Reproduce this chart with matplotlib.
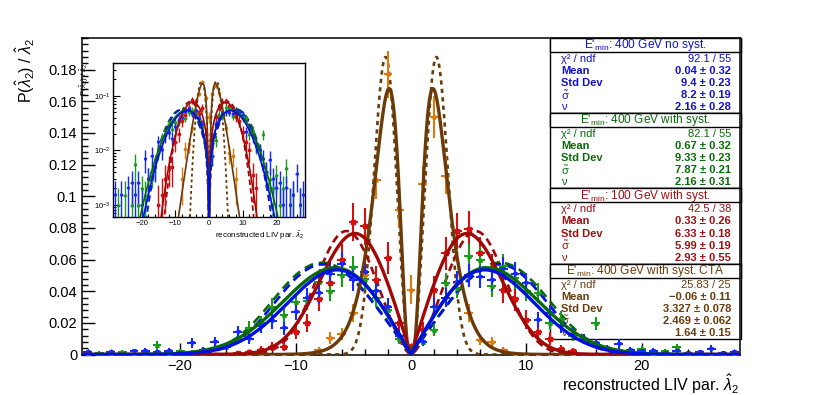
import numpy as np
import matplotlib
matplotlib.use("Agg")
import matplotlib.pyplot as plt
from matplotlib.patches import Rectangle
from matplotlib.ticker import MultipleLocator, LogLocator, NullFormatter

plt.rcParams['font.family'] = ['Liberation Sans', 'DejaVu Sans']
plt.rcParams['mathtext.fontset'] = 'custom'
plt.rcParams['mathtext.rm'] = 'Liberation Sans'
plt.rcParams['mathtext.it'] = 'Liberation Sans:italic'
plt.rcParams['mathtext.bf'] = 'Liberation Sans:bold'
plt.rcParams['axes.unicode_minus'] = True

# ---------------- data (bin centres -28 ... 28) ----------------
bins = list(range(-28, 29))

blue_y = [0.0015, 0.0, 0.0015, 0.0, 0.002, 0.0025, 0.0015, 0.0025, 0.001, 0.007,
          0.003, 0.008, 0.005, 0.0142, 0.010, 0.018, 0.021, 0.0165, 0.027, 0.036,
          0.039, 0.051, 0.057, 0.047, 0.052, 0.040, 0.030, 0.012, 0.002,
          0.008, 0.030, 0.036, 0.046, 0.050, 0.049, 0.047, 0.054, 0.051, 0.045,
          0.022, 0.026, 0.018, 0.013, 0.010, 0.007, 0.004, 0.0066, 0.003, 0.002,
          0.0025, 0.001, 0.002, 0.001, 0.0015, 0.0037, 0.001, 0.0015]
blue_e = [0.0012, 0.0, 0.0012, 0.0, 0.0014, 0.0016, 0.0012, 0.0016, 0.001, 0.0032,
          0.0017, 0.0033, 0.0024, 0.0040, 0.0032, 0.0044, 0.0047, 0.0042, 0.0053, 0.0061,
          0.0063, 0.0072, 0.0076, 0.0069, 0.0073, 0.0064, 0.0056, 0.0036, 0.0015,
          0.0029, 0.0056, 0.0061, 0.0069, 0.0072, 0.0071, 0.0069, 0.0074, 0.0072, 0.0068,
          0.0047, 0.0052, 0.0044, 0.0037, 0.0032, 0.0030, 0.0020, 0.0030, 0.0017, 0.0014,
          0.0016, 0.001, 0.0014, 0.001, 0.0012, 0.0020, 0.001, 0.0012]

green_y = [0.0, 0.001, 0.0, 0.0015, 0.0, 0.001, 0.0057, 0.001, 0.002, 0.0015,
           0.003, 0.004, 0.005, 0.010, 0.017, 0.020, 0.030, 0.025, 0.033, 0.034,
           0.046, 0.040, 0.050, 0.055, 0.048, 0.036, 0.028, 0.010, 0.004,
           0.008, 0.0156, 0.045, 0.042, 0.062, 0.060, 0.043, 0.0557, 0.0486, 0.040,
           0.039, 0.020, 0.0227, 0.012, 0.010, 0.0196, 0.004, 0.003, 0.002, 0.0035,
           0.001, 0.002, 0.0047, 0.001, 0.0015, 0.0, 0.001, 0.0]
green_e = [0.0, 0.001, 0.0, 0.0012, 0.0, 0.001, 0.0030, 0.001, 0.0014, 0.0012,
           0.0017, 0.0020, 0.0022, 0.0032, 0.0041, 0.0045, 0.0055, 0.0050, 0.0057, 0.0058,
           0.0068, 0.0063, 0.0071, 0.0074, 0.0069, 0.0060, 0.0053, 0.0032, 0.0020,
           0.0028, 0.0039, 0.0067, 0.0065, 0.0079, 0.0077, 0.0066, 0.0075, 0.0070, 0.0063,
           0.0062, 0.0045, 0.0048, 0.0035, 0.0032, 0.0044, 0.0020, 0.0017, 0.0014, 0.0019,
           0.001, 0.0014, 0.0022, 0.001, 0.0012, 0.0, 0.001, 0.0]

red_y = [0.0] * 13 + [0.001, 0.0015, 0.003, 0.005, 0.005, 0.0145, 0.020, 0.035, 0.045,
          0.060, 0.084, 0.081, 0.047, 0.061, 0.020, 0.004,
          0.0155, 0.041, 0.064, 0.078, 0.079, 0.064, 0.054, 0.041, 0.035,
          0.022, 0.0145, 0.010, 0.0035, 0.002] + [0.0] * 14
red_e = [0.0] * 13 + [0.0013, 0.0016, 0.0023, 0.0029, 0.0029, 0.0050, 0.0058, 0.0077, 0.0087,
          0.0101, 0.0120, 0.0117, 0.0089, 0.0102, 0.0058, 0.0026,
          0.0051, 0.0083, 0.0104, 0.0115, 0.0116, 0.0104, 0.0096, 0.0083, 0.0077,
          0.0061, 0.0050, 0.0041, 0.0024, 0.0018] + [0.0] * 14

orange_y = [0.0] * 20 + [0.003, 0.0105, 0.013, 0.026, 0.050, 0.110, 0.177, 0.091, 0.041,
             0.108, 0.150, 0.113, 0.045, 0.026, 0.009, 0.008, 0.003] + [0.0] * 20
orange_e = [0.0] * 20 + [0.002, 0.0036, 0.004, 0.0056, 0.0077, 0.0115, 0.0146, 0.0105, 0.0090,
             0.0114, 0.0134, 0.0116, 0.0073, 0.0056, 0.0033, 0.0031, 0.002] + [0.0] * 20

# fit curves: peak position, peak height, inner power p, tail shape q
fit_blue = (6.4, 0.0535, 1.0, 2.4)
fit_green = (6.6, 0.0548, 1.0, 2.35)
fit_red = (4.85, 0.0765, 1.0, 2.6)
fit_brown = (1.9, 0.168, 4.0, 0.75)
ref_blue = (7.6, 0.057, 1.0, 3.3)
ref_green = (7.7, 0.058, 1.0, 3.2)
ref_red = (5.6, 0.078, 1.5, 3.0)
ref_brown = (2.2, 0.188, 2.0, 2.5)

stats = [
    ("E'$_{\\rm min}$: 400 GeV no syst.", "92.1 / 55", "0.04 \u00b1 0.32", "9.4 \u00b1 0.23",
     "8.2 \u00b1 0.19", "2.16 \u00b1 0.28", '#1010d0'),
    ("E'$_{\\rm min}$: 400 GeV with syst.", "82.1 / 55", "0.67 \u00b1 0.32", "9.33 \u00b1 0.23",
     "7.87 \u00b1 0.21", "2.16 \u00b1 0.31", '#0a6a0a'),
    ("E'$_{\\rm min}$: 100 GeV with syst.", "42.5 / 38", "0.33 \u00b1 0.26", "6.33 \u00b1 0.18",
     "5.99 \u00b1 0.19", "2.93 \u00b1 0.55", '#9a1010'),
    ("E'$_{\\rm min}$: 400 GeV with syst. CTA", "25.83 / 25", "\u22120.06 \u00b1 0.11",
     "3.327 \u00b1 0.078", "2.469 \u00b1 0.062", "1.64 \u00b1 0.15", '#6a3a0a'),
]

C_BLUE_P, C_BLUE_L = '#1428ff', '#0010e0'
C_GREEN_P, C_GREEN_L = '#1a9a1a', '#0a6a0a'
C_RED_P, C_RED_L = '#d41010', '#a00808'
C_OR_P, C_BR_L = '#dd7a10', '#6a3a08'


def fitcurve(x, pars):
    xp, h, p, q = pars
    u = np.maximum(np.abs(x) / xp, 1e-9)
    return h * np.exp(p * np.log(u) - (p / q) * (u ** q - 1.0))


W, H = 822, 395
fig = plt.figure(figsize=(W / 100, H / 100), dpi=100)
fig.patch.set_facecolor('white')


def fx(px):
    return px / W


def fy(py):
    return 1 - py / H


ax = fig.add_axes([fx(82), fy(354.5), fx(740) - fx(82), fy(38) - fy(354.5)])
XL = (-28.5, 28.5)
xx = np.linspace(XL[0], XL[1], 2001)
xb = np.array(bins, dtype=float)

series = [
    (orange_y, orange_e, C_OR_P, 'o', fit_brown, ref_brown, C_BR_L, (1.6, 1.6)),
    (red_y, red_e, C_RED_P, 's', fit_red, ref_red, C_RED_L, (3.0, 1.8)),
    (green_y, green_e, C_GREEN_P, '^', fit_green, ref_green, C_GREEN_L, (3.5, 2.2)),
    (blue_y, blue_e, C_BLUE_P, 'v', fit_blue, ref_blue, C_BLUE_L, (3.5, 2.2)),
]

for yv, ev, cp, mk, fpar, rpar, cl, dsh in series:
    ax.plot(xx, fitcurve(xx, rpar), color=cl, lw=1.9, ls=(0, dsh), zorder=3)
for yv, ev, cp, mk, fpar, rpar, cl, dsh in series:
    ax.errorbar(xb, yv, yerr=ev, xerr=0.38, fmt=mk, ms=2.6, color=cp, ecolor=cp,
                elinewidth=1.5, capsize=0, zorder=4)
    ax.plot(xx, fitcurve(xx, fpar), color=cl, lw=2.4, zorder=5)

ax.set_xlim(*XL)
ax.set_ylim(0, 0.2)
ax.xaxis.set_major_locator(MultipleLocator(10))
ax.xaxis.set_minor_locator(MultipleLocator(2))
ax.yaxis.set_major_locator(MultipleLocator(0.02))
ax.yaxis.set_minor_locator(MultipleLocator(0.004))
ax.set_yticks([0, 0.02, 0.04, 0.06, 0.08, 0.1, 0.12, 0.14, 0.16, 0.18])
ax.set_yticklabels(['0', '0.02', '0.04', '0.06', '0.08', '0.1', '0.12', '0.14', '0.16', '0.18'])
ax.tick_params(which='both', direction='in', top=False, right=False, labelsize=10.5, width=1)
ax.tick_params(which='major', length=9)
ax.tick_params(which='minor', length=4.5)
ax.tick_params(axis='x', pad=3)
for s in ax.spines.values():
    s.set_linewidth(1.1)
ax.set_xlabel('reconstructed LIV par. $\\hat{\\lambda}_2$', fontsize=11.5, loc='right', labelpad=0)
fig.text(fx(25), fy(38), 'P($\\hat{\\lambda}_2$) / $\\hat{\\lambda}_2$', rotation=90,
         fontsize=11.5, ha='center', va='top')

# ---------------- stats boxes ----------------
tops = [37.7, 113.0, 188.3, 263.6]
boxh = 75.3
FS = 8.0
for (hdr, chi, mean, sd, sig, nu, col), y0 in zip(stats, tops):
    ax.add_patch(Rectangle((fx(550), fy(y0 + boxh)), fx(740.5) - fx(550), boxh / H,
                           transform=fig.transFigure, facecolor='white', edgecolor='black',
                           lw=1.0, zorder=1.5, clip_on=False))
    ax.add_patch(Rectangle((fx(550), fy(y0 + 14)), fx(740.5) - fx(550), 14 / H,
                           transform=fig.transFigure, facecolor='white', edgecolor='black',
                           lw=1.0, zorder=1.6, clip_on=False))
    ax.text(fx(645), fy(y0 + 7.5), hdr, transform=fig.transFigure, ha='center', va='center',
            fontsize=8.6, color=col, zorder=1.7)
    rows = [('\u03c7\u00b2 / ndf', chi, 'normal', 'normal'),
            ('Mean', mean, 'bold', 'bold'),
            ('Std Dev', sd, 'bold', 'bold'),
            ('$\\mathrm{\\tilde{\\sigma}}$', sig, 'normal', 'bold'),
            ('\u03bd', nu, 'normal', 'bold')]
    for k, (lab, val, lw_, wt) in enumerate(rows):
        yy = y0 + 21.0 + 12.1 * k
        ax.text(fx(561), fy(yy), lab, transform=fig.transFigure, ha='left', va='center',
                fontsize=FS, color=col, fontweight=lw_, zorder=1.7)
        ax.text(fx(731), fy(yy), val, transform=fig.transFigure, ha='right', va='center',
                fontsize=FS, color=col, fontweight=wt, zorder=1.7)

# ---------------- inset (log scale) ----------------
ins = fig.add_axes([fx(113), fy(217), fx(305) - fx(113), fy(63) - fy(217)])
ins.set_facecolor('white')
for yv, ev, cp, mk, fpar, rpar, cl, dsh in series:
    ins.plot(xx, fitcurve(xx, rpar), color=cl, lw=1.3, ls=(0, dsh), zorder=3)
for yv, ev, cp, mk, fpar, rpar, cl, dsh in series:
    yarr = np.array(yv)
    earr = np.array(ev)
    m = yarr > 0
    lo = np.minimum(earr[m], yarr[m] * 0.999)
    ins.errorbar(xb[m], yarr[m], yerr=[lo, earr[m]], xerr=0.38, fmt=mk, ms=1.6, color=cp,
                 ecolor=cp, elinewidth=1.0, capsize=0, zorder=4)
    ins.plot(xx, fitcurve(xx, fpar), color=cl, lw=1.2, zorder=5)
ins.set_yscale('log')
ins.set_xlim(*XL)
ins.set_ylim(6e-4, 0.4)
ins.xaxis.set_major_locator(MultipleLocator(10))
ins.xaxis.set_minor_locator(MultipleLocator(2))
ins.yaxis.set_major_locator(LogLocator(base=10, numticks=10))
ins.yaxis.set_minor_locator(LogLocator(base=10, subs=np.arange(2, 10) * 1.0, numticks=20))
ins.yaxis.set_minor_formatter(NullFormatter())
ins.tick_params(which='both', direction='in', labelsize=5.5, width=0.8, pad=2)
ins.tick_params(which='major', length=5)
ins.tick_params(which='minor', length=2.5)
for s in ins.spines.values():
    s.set_linewidth(1.0)
ins.set_xlabel('reconstructed LIV par. $\\hat{\\lambda}_2$', fontsize=5.8, loc='right', labelpad=1.5)
ins.set_ylabel('P($\\hat{\\lambda}_2$) / $\\hat{\\lambda}_2$', fontsize=5.8, loc='top', labelpad=2)

fig.savefig('out.png', dpi=100)
